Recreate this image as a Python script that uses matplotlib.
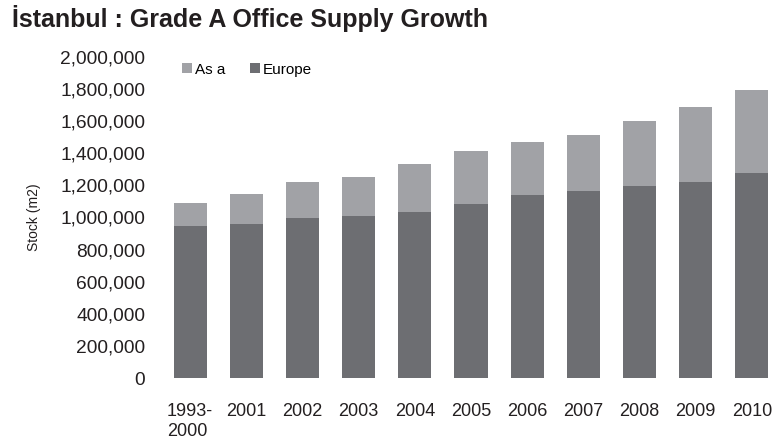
import numpy as np
import matplotlib.pyplot as plt

plt.rcParams['font.family'] = ['Liberation Sans', 'DejaVu Sans']

# Stock of Grade A office space (m2) by side of the city
years = ['1993-\n2000', '2001', '2002', '2003', '2004', '2005',
         '2006', '2007', '2008', '2009', '2010']
europe = [947000, 960000, 997000, 1009000, 1034000, 1084000,
          1140000, 1165000, 1196000, 1221000, 1277000]
asia = [143000, 186000, 224000, 243000, 299000, 330000,
        330000, 349000, 405000, 467000, 517000]
yticks = np.arange(0, 2000001, 200000)

dark = '#6d6e72'
light = '#a1a2a6'

fig = plt.figure(figsize=(7.8, 4.44), dpi=100)
ax = fig.add_axes([162 / 780, 66 / 444, 618 / 780, 321 / 444])

x = np.arange(len(years))
ax.bar(x, europe, width=0.59, color=dark, label='Europe')
ax.bar(x, asia, width=0.59, bottom=europe, color=light, label='As a')

ax.set_xlim(-0.5, len(years) - 0.5)
ax.set_ylim(0, 2000000)
ax.set_yticks(yticks)
ax.set_yticklabels([f'{v:,}' for v in yticks])
ax.set_xticks(x)
ax.set_xticklabels(years, multialignment='left')
ax.tick_params(axis='both', length=0, labelsize=13, colors='#231f20')
ax.tick_params(axis='y', pad=12, labelsize=13.8)
ax.tick_params(axis='x', pad=18)
for s in ax.spines.values():
    s.set_visible(False)

ax.set_ylabel('Stock (m2)', fontsize=10, color='#231f20', labelpad=14)

handles, labels = ax.get_legend_handles_labels()
ax.legend(handles[::-1], labels[::-1], loc='upper left', ncol=2, frameon=False,
          fontsize=11, handlelength=0.65, handleheight=0.65, handletextpad=0.2,
          columnspacing=1.6, bbox_to_anchor=(0.01, 1.025))

fig.text(12 / 780, 1 - 27 / 444, 'İstanbul : Grade A Office Supply Growth',
         fontsize=18, fontweight='bold', color='#231f20')

fig.savefig('out.png', dpi=100)
